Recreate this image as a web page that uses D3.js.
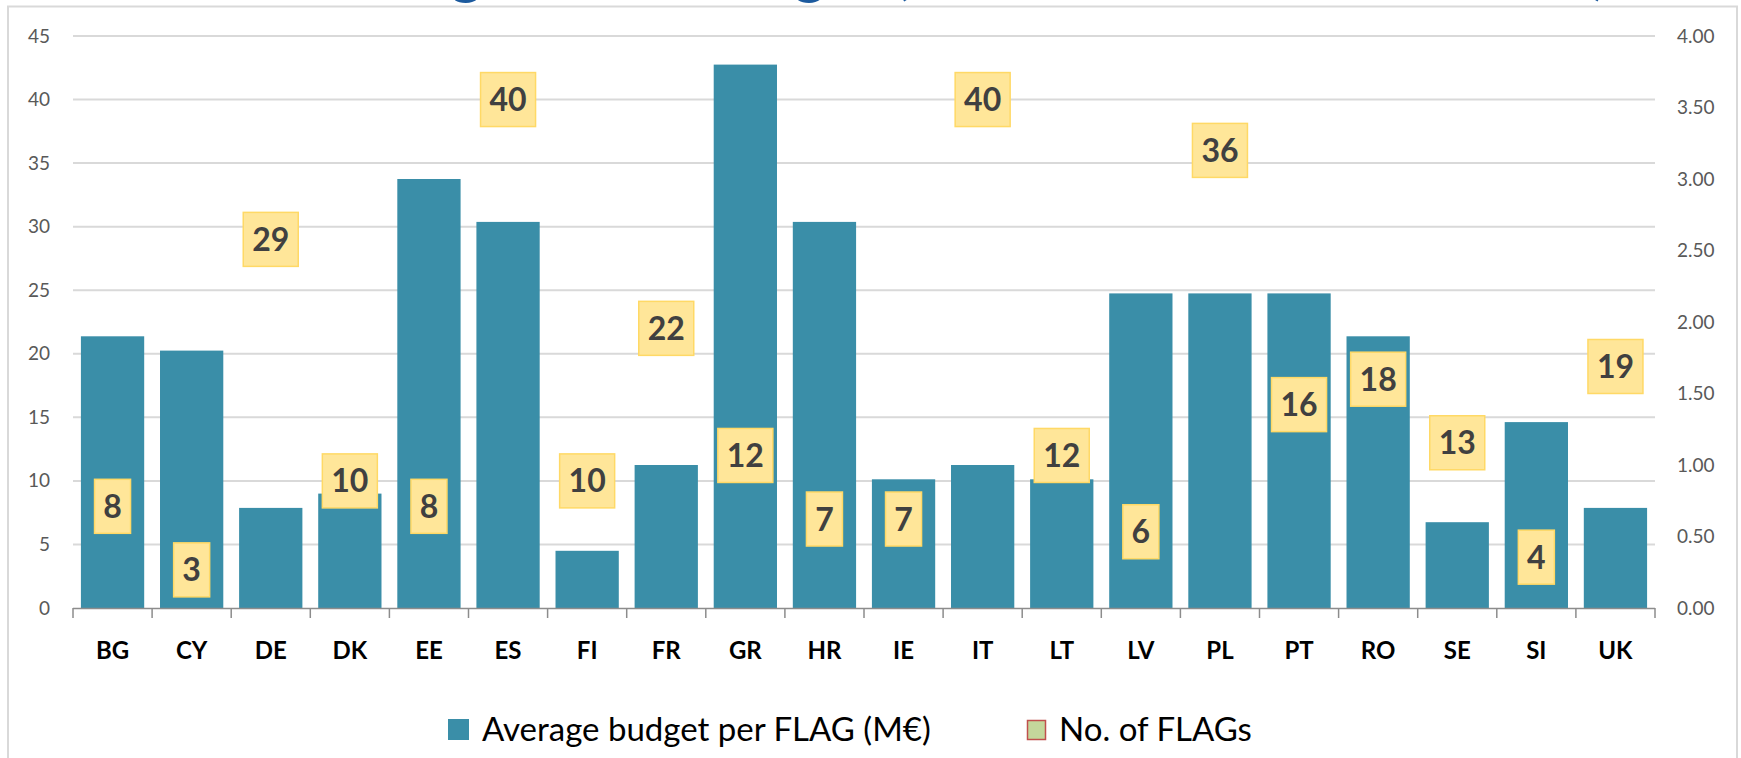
<!DOCTYPE html>
<html>
<head>
<meta charset="utf-8">
<script src="https://cdn.jsdelivr.net/npm/d3@7"></script>
<style>
  html, body { margin: 0; padding: 0; background: #fff; overflow: hidden; }
  svg { display: block; font-family: Lato, "Liberation Sans", sans-serif; }
</style>
</head>
<body>
<svg id="chart" width="1741" height="758"></svg>
<script>
// ---- data ----
const categories = ["BG","CY","DE","DK","EE","ES","FI","FR","GR","HR","IE","IT","LT","LV","PL","PT","RO","SE","SI","UK"];
const avgBudget = [1.90,1.80,0.70,0.80,3.00,2.70,0.40,1.00,3.80,2.70,0.90,1.00,0.90,2.20,2.20,2.20,1.90,0.60,1.30,0.70];
const numFlags = [8,3,29,10,8,40,10,22,12,7,7,40,12,6,36,16,18,13,4,19];
const leftTicks = [0,5,10,15,20,25,30,35,40,45];
const rightTicks = [0,0.5,1,1.5,2,2.5,3,3.5,4];
const seriesNames = ["Average budget per FLAG (M\u20AC)", "No. of FLAGs"];
const titleText = "Average FLAG budget (M\u20AC and number of FLAGs)";

// ---- layout ----
const plot = { left: 73, right: 1655, top: 36, bottom: 608 };
const svg = d3.select("#chart");

// frame border
svg.append("rect").attr("x", 8).attr("y", 6.5).attr("width", 1729).attr("height", 770)
  .attr("fill", "#fff").attr("stroke", "#d9d9d9").attr("stroke-width", 2);

// title: in the reference it is cut off by the top edge, only its descenders show
const title = svg.append("text").attr("x", 0).attr("y", -5)
  .attr("font-size", 56).attr("font-weight", "bold").attr("fill", "#1c5a9e")
  .text(titleText);
(function fitTitle() {
  const n = titleText.length;
  const node = title.node();
  const c5 = node.getStartPositionOfChar(5).x + node.getExtentOfChar(5).width / 2;
  const cl = node.getStartPositionOfChar(n - 1).x + node.getExtentOfChar(n - 1).width / 2;
  const fs = 56 * (1600 - 466) / (cl - c5);
  title.attr("font-size", fs);
  const c5b = node.getStartPositionOfChar(5).x + node.getExtentOfChar(5).width / 2;
  title.attr("x", 466 - c5b).attr("y", 3.5 - fs * 0.2);
})();

const x = d3.scaleBand().domain(categories).range([plot.left, plot.right]).paddingInner(0.2).paddingOuter(0.1);
const yL = d3.scaleLinear().domain([0, 45]).range([plot.bottom, plot.top]);
const yR = d3.scaleLinear().domain([0, 4]).range([plot.bottom, plot.top]);

// gridlines
svg.append("g").selectAll("line").data(leftTicks.filter(d => d > 0)).join("line")
  .attr("x1", plot.left).attr("x2", plot.right)
  .attr("y1", d => yL(d)).attr("y2", d => yL(d))
  .attr("stroke", "#d9d9d9").attr("stroke-width", 2);

// left axis labels
const axL = svg.append("g").attr("transform", `translate(${plot.left},0)`)
  .call(d3.axisLeft(yL).tickValues(leftTicks).tickSize(0).tickPadding(23).tickFormat(d3.format("d")));
axL.select(".domain").remove();
axL.selectAll("text").attr("font-size", 19).attr("fill", "#595959").attr("font-family", "Lato, sans-serif");

// right axis labels
const axR = svg.append("g").attr("transform", `translate(${plot.right},0)`)
  .call(d3.axisRight(yR).tickValues(rightTicks).tickSize(0).tickPadding(22).tickFormat(d3.format(".2f")));
axR.select(".domain").remove();
axR.selectAll("text").attr("font-size", 19).attr("fill", "#595959").attr("font-family", "Lato, sans-serif");

// bars
svg.append("g").selectAll("rect").data(categories).join("rect")
  .attr("x", d => x(d)).attr("width", x.bandwidth())
  .attr("y", (d, i) => yR(avgBudget[i]))
  .attr("height", (d, i) => yR(0) - yR(avgBudget[i]))
  .attr("fill", "#3a8ea8");

// bottom axis
const edges = categories.map(c => x(c) - x.step() * x.paddingInner() / 2).concat([plot.right]);
edges[0] = plot.left;
svg.append("line").attr("x1", plot.left).attr("x2", plot.right)
  .attr("y1", plot.bottom + 0.5).attr("y2", plot.bottom + 0.5)
  .attr("stroke", "#8c8c8c").attr("stroke-width", 1.5);
svg.append("g").selectAll("line").data(edges).join("line")
  .attr("x1", d => d).attr("x2", d => d)
  .attr("y1", plot.bottom).attr("y2", plot.bottom + 10)
  .attr("stroke", "#8c8c8c").attr("stroke-width", 1.5);
svg.append("g").selectAll("text").data(categories).join("text")
  .attr("x", d => x(d) + x.bandwidth() / 2).attr("y", 659)
  .attr("text-anchor", "middle").attr("font-size", 24).attr("font-weight", "bold")
  .attr("fill", "#000").text(d => d);

// No. of FLAGs labels
const lab = svg.append("g").selectAll("g").data(categories).join("g")
  .attr("transform", (d, i) => `translate(${x(d) + x.bandwidth() / 2},${yL(numFlags[i])})`);
lab.append("rect")
  .attr("x", (d, i) => -(String(numFlags[i]).length > 1 ? 27.5 : 18))
  .attr("width", (d, i) => String(numFlags[i]).length > 1 ? 55 : 36)
  .attr("y", -27).attr("height", 54)
  .attr("fill", "#ffe699").attr("stroke", "#ffd966").attr("stroke-width", 1.5);
lab.append("text").attr("text-anchor", "middle").attr("y", 11.5)
  .attr("font-size", 32).attr("font-weight", "bold").attr("fill", "#404040")
  .text((d, i) => numFlags[i]);

// legend
const leg = svg.append("g");
leg.append("rect").attr("x", 448).attr("y", 719).attr("width", 21).attr("height", 21).attr("fill", "#3a8ea8");
leg.append("text").attr("x", 482).attr("y", 741).attr("font-size", 33).attr("fill", "#000").text(seriesNames[0]);
leg.append("rect").attr("x", 1027.5).attr("y", 720.5).attr("width", 18).attr("height", 19)
  .attr("fill", "#c4d79b").attr("stroke", "#c0504d").attr("stroke-width", 1.5);
leg.append("text").attr("x", 1059).attr("y", 741).attr("font-size", 33).attr("fill", "#000").text(seriesNames[1]);
</script>
</body>
</html>
